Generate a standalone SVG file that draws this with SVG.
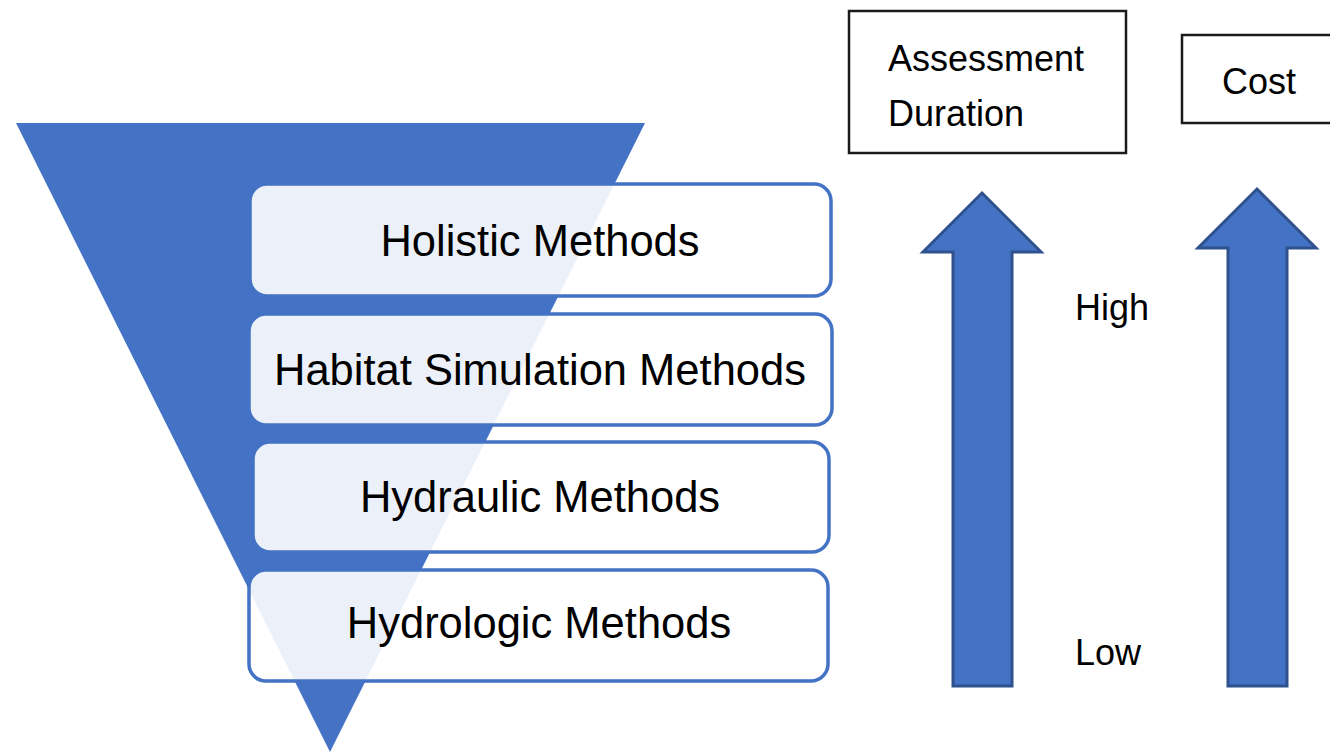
<svg xmlns="http://www.w3.org/2000/svg" width="1330" height="755" viewBox="0 0 1330 755">
  <style>
    .funnel { fill: #4472C4; }
    .method rect { fill: #FFFFFF; fill-opacity: 0.9; stroke: #4472C4; stroke-width: 3.5; }
    .method text { font-family: "Liberation Sans", Arial, sans-serif; font-size: 43.5px; fill: #000000; text-anchor: middle; }
    .label rect { fill: #FFFFFF; stroke: #1A1A1A; stroke-width: 2.5; }
    .lbl { font-family: "Liberation Sans", Arial, sans-serif; font-size: 36px; fill: #000000; }
    .arrow { fill: #4472C4; stroke: #2F528F; stroke-width: 3; stroke-linejoin: miter; }
  </style>
  <rect width="1330" height="755" fill="#FFFFFF"/>

  <g id="funnel">
    <polygon class="funnel" points="16,123 645,123 330,752"/>
  </g>

  <g id="holistic" class="method">
    <rect x="250" y="184" width="581" height="112" rx="17"/>
    <text x="540" y="256">Holistic Methods</text>
  </g>
  <g id="habitat" class="method">
    <rect x="249" y="314" width="583" height="111" rx="17"/>
    <text x="540" y="385">Habitat Simulation Methods</text>
  </g>
  <g id="hydraulic" class="method">
    <rect x="253" y="442" width="576" height="110" rx="17"/>
    <text x="540" y="512">Hydraulic Methods</text>
  </g>
  <g id="hydrologic" class="method">
    <rect x="249" y="570" width="579" height="111" rx="17"/>
    <text x="539" y="638">Hydrologic Methods</text>
  </g>

  <g id="assessment-duration" class="label">
    <rect x="849" y="11" width="277" height="142"/>
    <text class="lbl" x="888" y="71">Assessment</text>
    <text class="lbl" x="888" y="126">Duration</text>
  </g>
  <g id="cost" class="label">
    <rect x="1182" y="35" width="170" height="88"/>
    <text class="lbl" x="1222" y="94">Cost</text>
  </g>

  <g id="connectors">
    <polygon class="arrow" points="982,193 1041,252 1012,252 1012,686 953,686 953,252 923,252"/>
    <polygon class="arrow" points="1257,189 1316,248 1287,248 1287,686 1228,686 1228,248 1198,248"/>
  </g>

  <g id="scale-labels">
    <text class="lbl" x="1075" y="320">High</text>
    <text class="lbl" x="1075" y="665">Low</text>
  </g>
</svg>
